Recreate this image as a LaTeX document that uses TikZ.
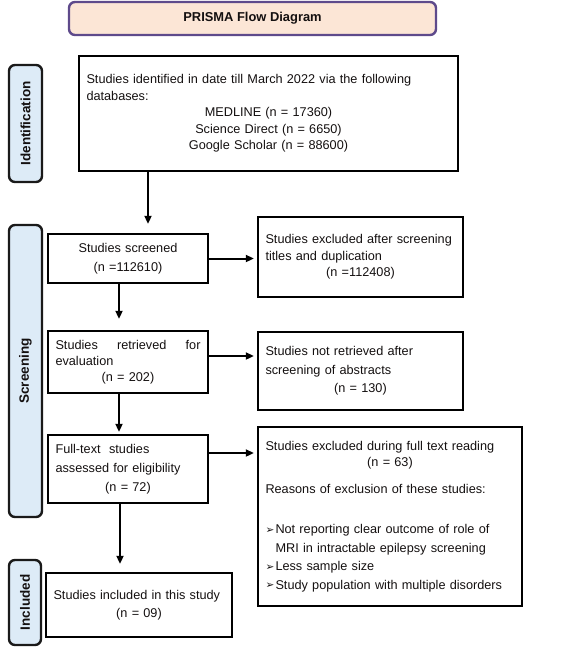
\documentclass[tikz,border=0pt]{standalone}
\usepackage{fontspec}
\setmainfont{Liberation Sans}
\newfontfamily\dejavu{DejaVu Sans}
\usetikzlibrary{arrows.meta}
\definecolor{txt}{HTML}{141010}
\definecolor{titlefill}{HTML}{FCE6D6}
\definecolor{titledraw}{HTML}{5E4A8B}
\definecolor{labfill}{HTML}{DDEBF7}
\definecolor{labdraw}{HTML}{1A1A1A}
\newcommand{\bul}{\makebox[10pt][l]{\raisebox{0.3pt}{\dejavu\fontsize{10.5}{10}\selectfont ➢}}}
\newcommand{\ctr}[1]{\makebox[\linewidth]{#1}}
\begin{document}
\begin{tikzpicture}[x=1pt,y=-1pt,
  box/.style={draw=black, line width=2.4pt, inner xsep=7.5pt, inner ysep=0pt, align=left, text=txt},
  titlebox/.style={draw=titledraw, fill=titlefill, line width=2.4pt, rounded corners=6pt, text=txt,
    font=\fontsize{12.9}{15}\selectfont\bfseries, inner sep=0pt},
  lab/.style={draw=labdraw, fill=labfill, line width=2.4pt, rounded corners=6pt, rotate=90, text=txt,
    font=\fontsize{13.5}{16}\selectfont\bfseries, inner sep=0pt},
  arr/.style={-{Triangle[width=7pt,length=8pt]}, line width=2pt, draw=black}]
\useasboundingbox (0,0) rectangle (564,648);

\node[titlebox, minimum width=367pt, minimum height=33pt] (title) at (252.5,18.5) {PRISMA Flow Diagram};

\node[lab, minimum width=117pt, minimum height=33pt] (idlab) at (25.5,123.5) {Identification};
\node[lab, minimum width=292pt, minimum height=33pt] (scrlab) at (25.5,371) {Screening};
\node[lab, minimum width=85pt, minimum height=32pt] (inclab) at (25,602.5) {Included};

\node[box, text width=364pt, minimum height=115pt, font=\fontsize{12.7}{16.6}\selectfont] (ident) at (268.5,113.5)
  {Studies identified in date till March 2022 via the following\\
   databases:\\
   \ctr{MEDLINE (n = 17360)}\\
   \ctr{Science Direct (n = 6650)}\\
   \ctr{Google Scholar (n = 88600)}};

\node[box, text width=145pt, minimum height=49pt, font=\fontsize{12.7}{19}\selectfont] (scr) at (128,258.5)
  {\ctr{Studies screened}\\
   \ctr{(n =112610)}};

\node[box, text width=190pt, minimum height=80pt, font=\fontsize{12.7}{16.6}\selectfont] (ex1) at (360.5,257)
  {Studies excluded after screening\\
   titles and duplication\\
   \ctr{(n =112408)}};

\node[box, text width=145pt, minimum height=62pt, font=\fontsize{12.7}{16}\selectfont] (ret) at (128,362)
  {\makebox[\linewidth][s]{Studies\hfill retrieved\hfill for}\\
   evaluation\\
   \ctr{(n = 202)}};

\node[box, text width=190pt, minimum height=78pt, font=\fontsize{12.7}{18.5}\selectfont] (ex2) at (360.5,371)
  {Studies not retrieved after\\
   screening of abstracts\\
   \ctr{(n = 130)}};

\node[box, text width=145pt, minimum height=68pt, font=\fontsize{12.7}{19}\selectfont] (full) at (128,469)
  {Full-text\ \ studies\\
   assessed for eligibility\\
   \ctr{(n = 72)}};

\node[box, text width=249pt, minimum height=179pt, font=\fontsize{12.7}{18.5}\selectfont] (ex3) at (390,516.5)
  {Studies excluded during full text reading\\[-2.5pt]
   \ctr{(n = 63)}\\[8.5pt]
   Reasons of exclusion of these studies:\\[21.5pt]
   \bul Not reporting clear outcome of role of\\[0.5pt]
   \hspace*{10pt}MRI in intractable epilepsy screening\\[-0.5pt]
   \bul Less sample size\\
   \bul Study population with multiple disorders};

\node[box, text width=171pt, minimum height=64pt, font=\fontsize{12.7}{18}\selectfont] (inc) at (139,605)
  {Studies included in this study\\
   \ctr{(n = 09)}};

\coordinate (c1) at (148,0);
\coordinate (c2) at (119,0);
\coordinate (c3) at (0,356);
\coordinate (c4) at (0,453);
\coordinate (c5) at (120,0);

\draw[arr, shorten >=9pt] (ident.south -| c1) -- (scr.north -| c1);
\draw[arr, shorten >=3pt] (scr.east) -- (scr.east -| ex1.west);
\draw[arr, shorten >=11pt] (scr.south -| c2) -- (ret.north -| c2);
\draw[arr, shorten >=3pt] (ret.east |- c3) -- (ex2.west |- c3);
\draw[arr, shorten >=2pt] (ret.south -| c2) -- (full.north -| c2);
\draw[arr, shorten >=3pt] (full.east |- c4) -- (ex3.west |- c4);
\draw[arr, shorten >=8pt] (full.south -| c5) -- (inc.north -| c5);
\end{tikzpicture}
\end{document}
